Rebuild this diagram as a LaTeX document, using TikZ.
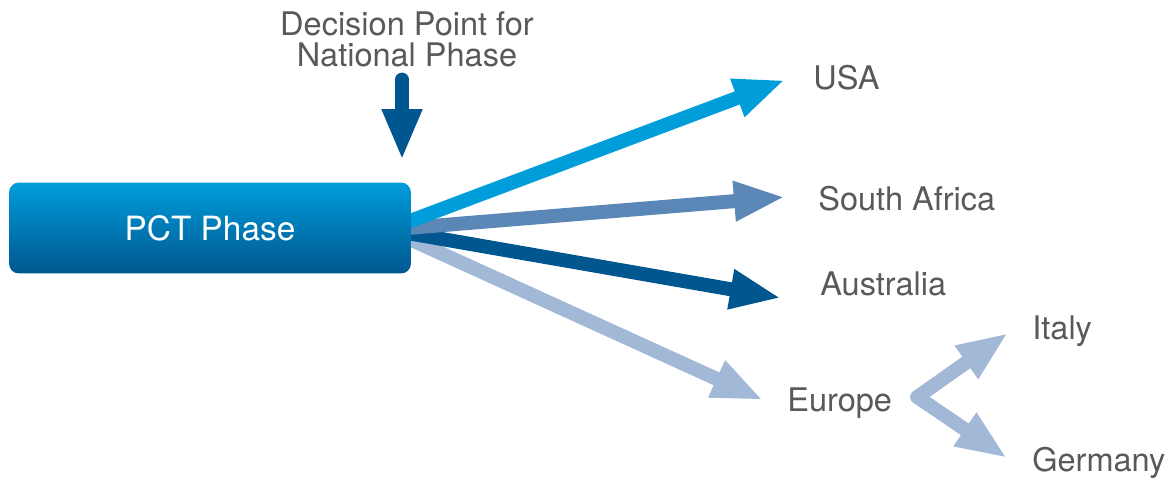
\documentclass[tikz,border=0pt]{standalone}
\usepackage{fontspec}
\setmainfont{TeX Gyre Heros}
\usetikzlibrary{arrows.meta,backgrounds}
\definecolor{pctcyan}{RGB}{0,157,219}
\definecolor{pctdark}{RGB}{0,87,143}
\definecolor{pctmid}{RGB}{91,135,183}
\definecolor{pctpale}{RGB}{162,184,215}
\definecolor{txtgray}{RGB}{88,89,91}
\tikzset{
  country/.style={font=\fontsize{18.5}{16.5}\selectfont, text=txtgray, inner sep=0pt},
  fat/.style={line width=0.28cm, -{Triangle[length=1.02cm,width=0.74cm]}},
}
\begin{document}
\begin{tikzpicture}[x=0.02cm,y=-0.02cm]
\useasboundingbox (0,0) rectangle (1167,477);
\node[rounded corners=0.2cm, top color=pctcyan, bottom color=pctdark,
  minimum width=8.04cm, minimum height=1.82cm, text=white,
  font=\fontsize{19}{22}\selectfont] (pct) at (210,228) {PCT Phase};

\node[country, align=center, anchor=north, font=\fontsize{18.5}{18}\selectfont] (decision) at (407,11) {Decision Point for\\National Phase};
\node[country, anchor=base west] (usa) at (813,89) {USA};
\node[country, anchor=base west] (safrica) at (818,210) {South Africa};
\node[country, anchor=base west] (aus) at (820,295) {Australia};
\node[country, anchor=base west] (europe) at (787,411) {Europe};
\node[country, anchor=base west] (italy) at (1032,339) {Italy};
\node[country, anchor=base west] (germany) at (1032,471) {Germany};

\begin{scope}[on background layer]
  \draw[fat, pctpale] ([shift={(-4,10)}]pct.east) -- ([shift={(-24,-11)}]europe.base west);
  \draw[fat, pctdark] ([shift={(-4,5)}]pct.east) -- ([shift={(-39,3)}]aus.base west);
  \draw[fat, pctmid] ([shift={(-4,0)}]pct.east) -- ([shift={(-33,-13)}]safrica.base west);
  \draw[fat, pctcyan] ([shift={(-4,-6)}]pct.east) -- ([shift={(-28,-9)}]usa.base west);
\end{scope}

% decision arrow
\draw[fat, pctdark, line cap=round] ([shift={(-5,12)}]decision.south) -- ([shift={(192,-22)}]pct.north);

% europe split
\coordinate (split) at ([shift={(25,-14)}]europe.base east);
\draw[fat, pctpale, line cap=round] (split) -- ([shift={(-24,-6)}]italy.base west);
\draw[fat, pctpale, line cap=round] (split) -- ([shift={(-25,-13)}]germany.base west);
\end{tikzpicture}
\end{document}
